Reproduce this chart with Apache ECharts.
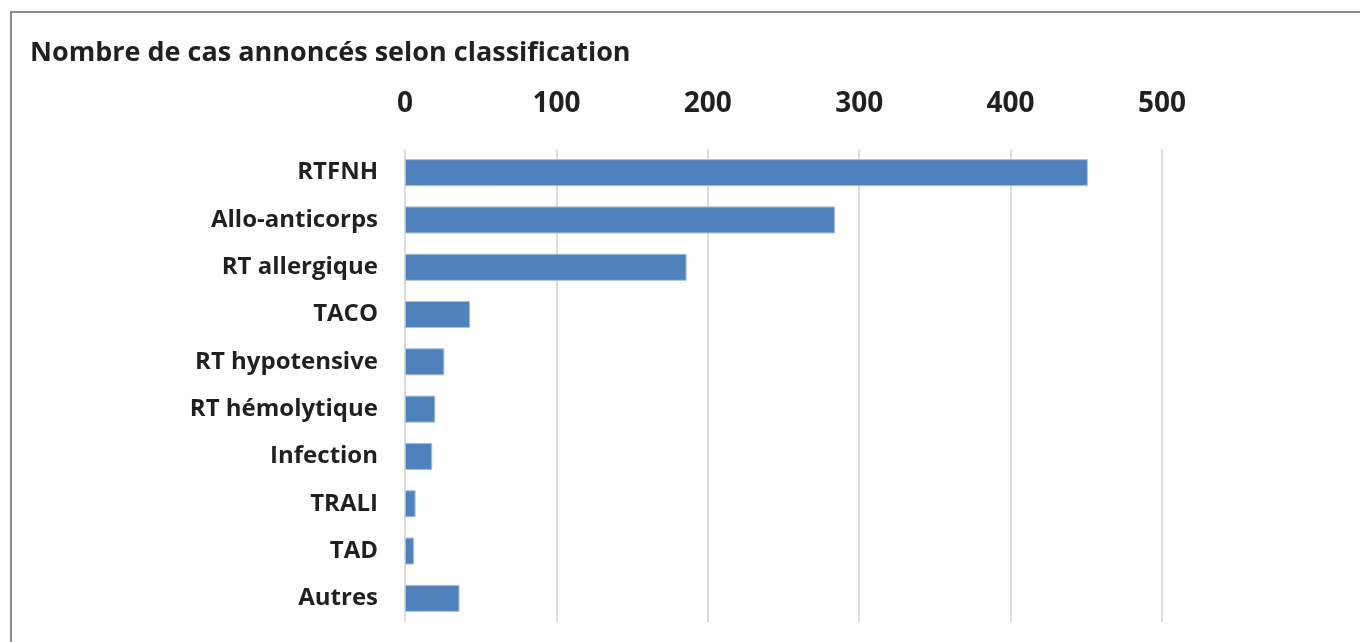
<!DOCTYPE html>
<html>
<head>
<meta charset="utf-8">
<script src="https://cdn.jsdelivr.net/npm/echarts@6/dist/echarts.min.js"></script>
<style>
  html, body { margin: 0; padding: 0; background: #fff; }
  #chart { width: 1360px; height: 642px; }
</style>
</head>
<body>
<div id="chart"></div>
<script>
// Cas annoncés par classification
const titleText = 'Nombre de cas annoncés selon classification';
const categories = ['RTFNH', 'Allo-anticorps', 'RT allergique', 'TACO', 'RT hypotensive',
  'RT hémolytique', 'Infection', 'TRALI', 'TAD', 'Autres'];
const cases = [451, 284, 186, 43, 26, 20, 18, 7, 6, 36];
const axisMin = 0;
const axisMax = 500;
const axisStep = 100;

const FONT = '"Open Sans", "Noto Sans", sans-serif';

const chart = echarts.init(document.getElementById('chart'), null, { renderer: 'canvas' });
chart.setOption({
  animation: false,
  backgroundColor: '#ffffff',
  graphic: [
    {
      type: 'rect',
      shape: { x: 11, y: 12, width: 1400, height: 700 },
      style: { fill: 'none', stroke: '#8a8a8a', lineWidth: 2 },
      silent: true
    }
  ],
  title: {
    text: titleText,
    left: 25,
    top: 35,
    textStyle: { fontFamily: FONT, fontWeight: 700, fontSize: 27, color: '#231f20' }
  },
  grid: { left: 405, right: 198, top: 149, bottom: 20, containLabel: false },
  xAxis: {
    type: 'value',
    position: 'top',
    min: axisMin,
    max: axisMax,
    interval: axisStep,
    axisLine: { show: false },
    axisTick: { show: false },
    axisLabel: {
      margin: 31,
      fontFamily: FONT,
      fontWeight: 700,
      fontSize: 28,
      color: '#231f20'
    },
    splitLine: { show: true, lineStyle: { color: '#dcdcdc', width: 2 } }
  },
  yAxis: {
    type: 'category',
    data: categories,
    inverse: true,
    axisLine: { show: false },
    axisTick: { show: false },
    axisLabel: {
      margin: 27,
      fontFamily: FONT,
      fontWeight: 700,
      fontSize: 24,
      color: '#231f20'
    }
  },
  series: [
    {
      type: 'bar',
      data: cases,
      barWidth: 27,
      itemStyle: { color: '#4f81bd', borderColor: '#a7bfe0', borderWidth: 1 }
    }
  ]
});
</script>
</body>
</html>
